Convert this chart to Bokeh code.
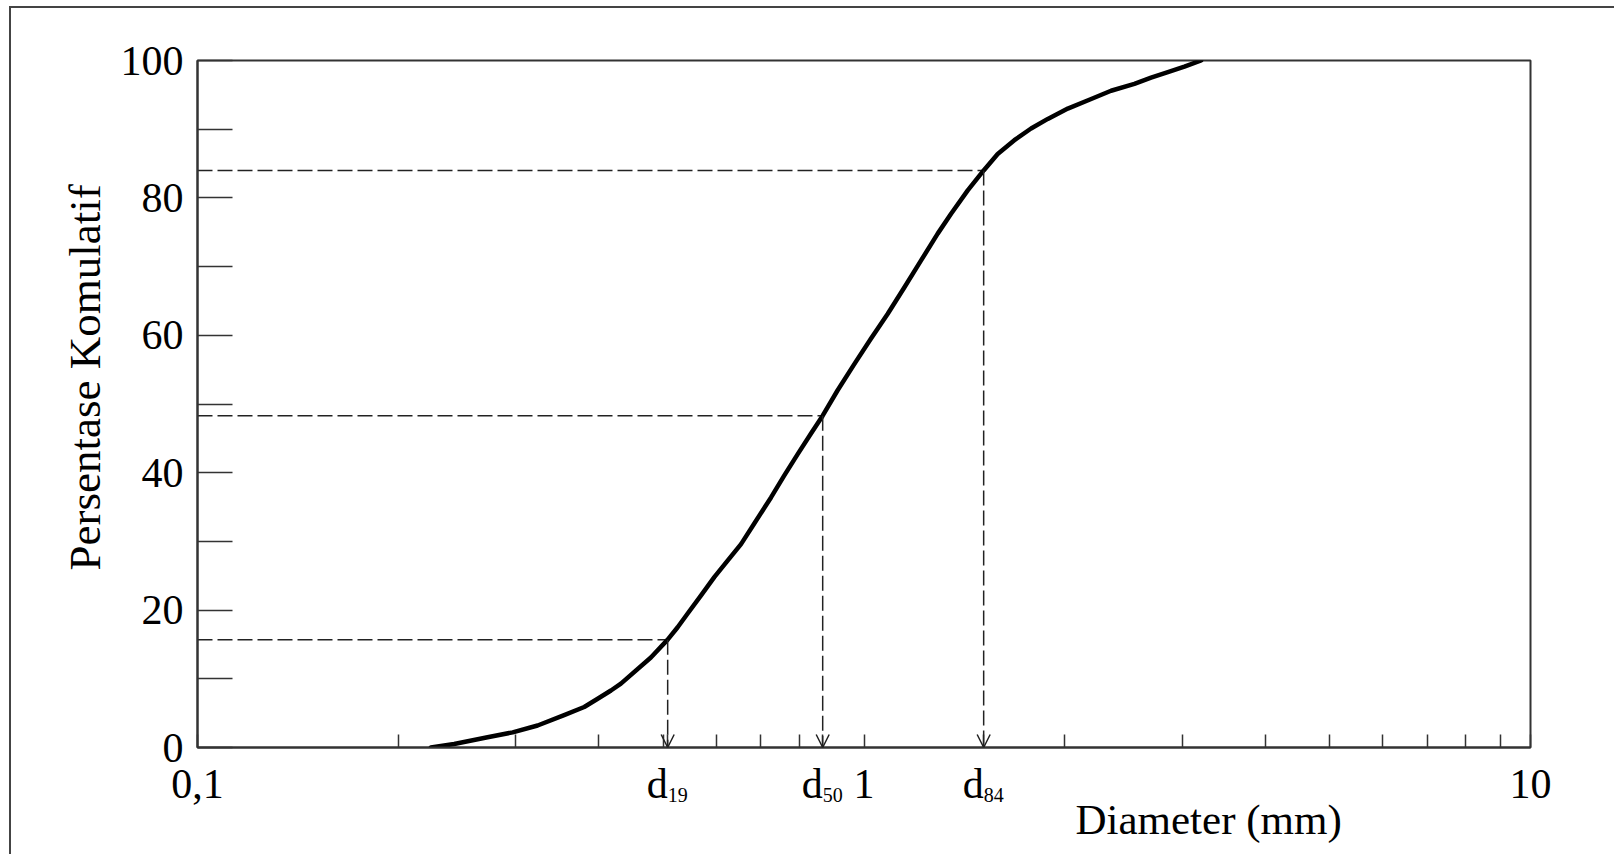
from bokeh.plotting import figure
from bokeh.models import (FixedTicker, Arrow, OpenHead, ColumnDataSource,
                          Range1d, Title, LogAxis)
from bokeh.embed import file_html
from bokeh.resources import INLINE

# ---- data ----
diameter = [0.2239, 0.2427, 0.2724, 0.2971, 0.3238, 0.3549, 0.3804, 0.3985,
            0.4172, 0.4318, 0.4789, 0.5075, 0.5253, 0.5438, 0.5692, 0.5962,
            0.6243, 0.6539, 0.6845, 0.7253, 0.7594, 0.7953, 0.8327, 0.8670,
            0.9130, 0.9670, 1.024, 1.085, 1.150, 1.218, 1.290, 1.351, 1.431,
            1.512, 1.587, 1.681, 1.781, 1.887, 2.022, 2.192, 2.348, 2.545,
            2.696, 2.857, 3.025, 3.205]
percent = [0, 0.5, 1.5, 2.2, 3.2, 4.7, 5.9, 7.1, 8.3, 9.3, 13.1, 15.7, 17.5,
           19.5, 22.1, 24.8, 27.2, 29.6, 32.6, 36.4, 39.6, 42.7, 45.7, 48.3,
           52.0, 55.8, 59.5, 63.1, 67.0, 70.9, 74.8, 77.7, 81.1, 84.0, 86.4,
           88.4, 90.1, 91.5, 93.0, 94.4, 95.6, 96.6, 97.5, 98.3, 99.1, 100]

marker_names = ["19", "50", "84"]
marker_d = [0.5075, 0.867, 1.512]
marker_pct = [15.7, 48.3, 84.0]

x_major = [0.1, 1, 10]
x_major_labels = ["0,1", "1", "10"]
x_minor = [0.2, 0.3, 0.4, 0.5, 0.6, 0.7, 0.8, 2, 3, 4, 5, 6, 7, 8, 9]
y_major = [0, 20, 40, 60, 80, 100]
y_minor = [10, 30, 50, 70, 90]

x_title = "Diameter (mm)"
y_title = "Persentase Komulatif"

FONT = "Liberation Serif"
INK = "#333333"
EN = "\u2002"

p = figure(width=1614, height=854, x_axis_type="log",
           x_range=Range1d(0.1, 10), y_range=Range1d(0, 100),
           output_backend="svg", toolbar_location=None,
           min_border_left=197, min_border_right=84,
           min_border_top=60, min_border_bottom=107)
# outer frame of the picture: only its left and top edges are inside the window
p.styles = {"background-color": "white", "vertical-align": "top",
            "box-shadow": "inset 9px 6px 0px 0px #ffffff, inset 11px 8px 0px 0px #444444"}
p.xgrid.visible = False
p.ygrid.visible = False
p.outline_line_color = INK
p.outline_line_width = 2
p.background_fill_color = "white"
p.border_fill_color = None

# x axis: decade labels plus the "d" of each marker
xa = p.xaxis[0]
xa.ticker = FixedTicker(ticks=sorted(x_major + marker_d), minor_ticks=x_minor)
overrides = {v: t for v, t in zip(x_major, x_major_labels)}
for d in marker_d:
    overrides[d] = "d" + EN
xa.major_label_overrides = overrides
xa.major_tick_in = 13
xa.major_tick_out = 0
xa.minor_tick_in = 13
xa.minor_tick_out = 0
xa.axis_line_color = INK
xa.axis_line_width = 2
xa.major_tick_line_color = INK
xa.minor_tick_line_color = INK
xa.major_tick_line_width = 1.5
xa.minor_tick_line_width = 1.5
xa.major_label_text_font = FONT
xa.major_label_text_font_size = "42px"
xa.major_label_text_color = "black"
xa.major_label_standoff = 13

# second x axis carrying the small subscript numbers of the markers
sub_axis = LogAxis(ticker=FixedTicker(ticks=marker_d, minor_ticks=[]),
                   major_label_overrides={d: EN + EN + n for d, n in zip(marker_d, marker_names)},
                   axis_line_color=None, major_tick_line_color=None,
                   minor_tick_line_color=None,
                   major_label_text_font=FONT, major_label_text_font_size="20px",
                   major_label_text_color="black", major_label_standoff=-32)
p.add_layout(sub_axis, "below")

# y axis
ya = p.yaxis[0]
ya.ticker = FixedTicker(ticks=y_major, minor_ticks=y_minor)
ya.major_tick_in = 35
ya.major_tick_out = 0
ya.minor_tick_in = 35
ya.minor_tick_out = 0
ya.axis_line_color = INK
ya.axis_line_width = 2
ya.major_tick_line_color = INK
ya.minor_tick_line_color = INK
ya.major_tick_line_width = 1.5
ya.minor_tick_line_width = 1.5
ya.major_label_text_font = FONT
ya.major_label_text_font_size = "42px"
ya.major_label_text_color = "black"
ya.major_label_standoff = 14

# dashed guide lines
p.segment(x0=[0.1] * len(marker_d), y0=marker_pct, x1=marker_d, y1=marker_pct,
          line_color="#222222", line_width=1.5, line_dash="15 5")
arr_src = ColumnDataSource(dict(x=marker_d, y0=marker_pct, y1=[0] * len(marker_d)))
p.add_layout(Arrow(source=arr_src, x_start="x", y_start="y0", x_end="x", y_end="y1",
                   line_color="#222222", line_width=1.5, line_dash="15 5",
                   end=OpenHead(size=13, line_color="#222222", line_width=1.5)))

# curve
p.line(diameter, percent, line_color="black", line_width=4.5,
       line_join="round", line_cap="round")

# axis titles
p.add_layout(Title(text=y_title, align="left", offset=177, standoff=16,
                   text_font=FONT, text_font_size="45px", text_font_style="normal",
                   text_color="black"), "left")
p.add_layout(Title(text=x_title, align="left", offset=878, standoff=-31,
                   text_font=FONT, text_font_size="43px", text_font_style="normal",
                   text_color="black"), "below")

open("out.html", "w").write(file_html(p, INLINE))
